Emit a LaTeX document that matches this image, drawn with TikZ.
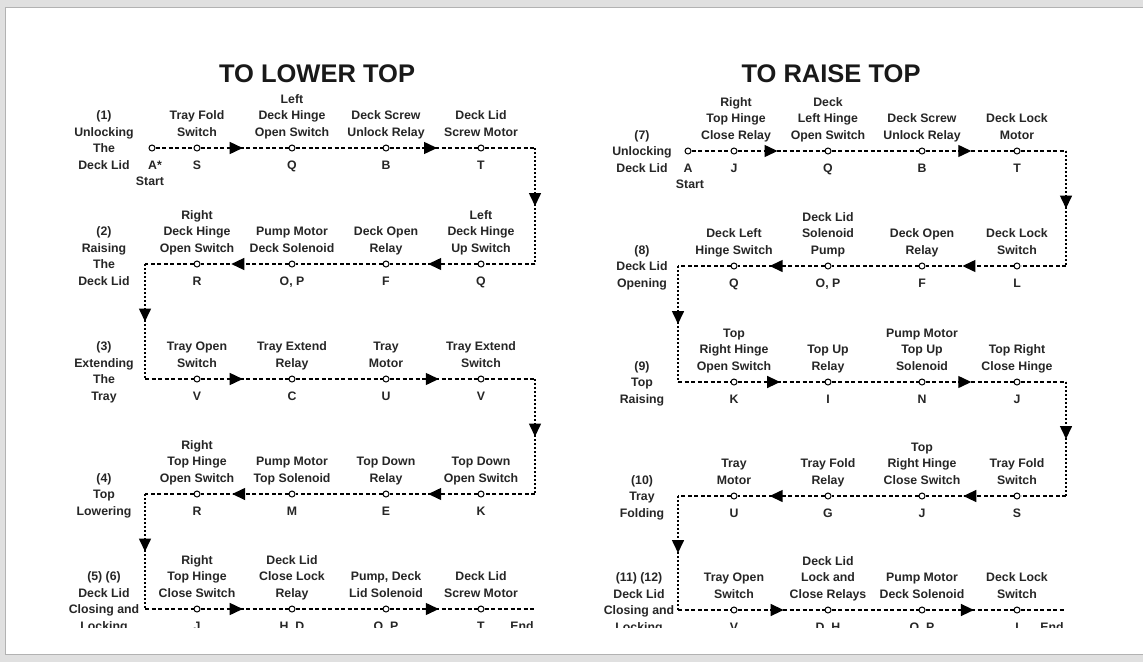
\documentclass[tikz,border=0pt]{standalone}
\usepackage{fontspec}
\setmainfont{Liberation Sans}
\usetikzlibrary{arrows.meta,decorations.markings}
\newcommand\partfont{\bfseries\fontsize{12.3}{16.5}\selectfont}
\newcommand\headfont{\bfseries\fontsize{25.5}{30}\selectfont}
\tikzset{
  stn/.style={circle, draw, line width=1pt, fill=white, inner sep=0pt, minimum size=6pt},
  part/.style={font=\partfont, text=black!85, align=center, anchor=base, inner sep=0pt},
  letter/.style={font=\partfont, text=black!85, anchor=base, inner sep=0pt},
  stage/.style={font=\partfont, text=black!85, align=center, anchor=base, inner sep=0pt},
  head/.style={font=\headfont, text=black!90, anchor=base, inner sep=0pt},
  wire/.style={line width=1.4pt, dash pattern=on 4pt off 2.5pt},
  riser/.style={line width=1.6pt, dash pattern=on 2pt off 2pt},
  midtip/.style={postaction={decorate, decoration={markings,
    mark=at position #1 with {\arrow{Triangle[length=13pt,width=12pt]}}}}}
}
\begin{document}
\begin{tikzpicture}[x=1pt,y=-1pt]
\clip (0,0) rectangle (1143,662);
\fill[black!12] (0,0) rectangle (1143,662);
\filldraw[fill=white, draw=black!30, line width=1pt] (5,7) rectangle (1170,654);
\begin{scope}
\clip (0,0) rectangle (1143,627);
% titles
\node[head] (lowhead) at (317,82.5) {TO LOWER TOP};
\node[head] (raisehead) at (831,82.5) {TO RAISE TOP};

% ---- to lower top ----
% (1) unlocking the deck lid
\node[stage] (st1) at (104,169.2) {(1)\\Unlocking\\The\\Deck Lid};
\node[stn] (r1c0) at (152,148) {};
\node[letter] (r1c0k) at (155,169.2) {A*};
\node[letter] (r1st) at (150,185.7) {Start};
\node[stn] (r1c1) at (197,148) {};
\node[part] (r1c1n) at (197,136.2) {Tray Fold\\Switch};
\node[letter] (r1c1k) at (197,169.2) {S};
\node[stn] (r1c2) at (292,148) {};
\node[part] (r1c2n) at (292,136.2) {Left\\Deck Hinge\\Open Switch};
\node[letter] (r1c2k) at (292,169.2) {Q};
\node[stn] (r1c3) at (386,148) {};
\node[part] (r1c3n) at (386,136.2) {Deck Screw\\Unlock Relay};
\node[letter] (r1c3k) at (386,169.2) {B};
\node[stn] (r1c4) at (481,148) {};
\node[part] (r1c4n) at (481,136.2) {Deck Lid\\Screw Motor};
\node[letter] (r1c4k) at (481,169.2) {T};
% (2) raising the deck lid
\node[stage] (st2) at (104,285.2) {(2)\\Raising\\The\\Deck Lid};
\node[stn] (r2c1) at (197,264) {};
\node[part] (r2c1n) at (197,252.2) {Right\\Deck Hinge\\Open Switch};
\node[letter] (r2c1k) at (197,285.2) {R};
\node[stn] (r2c2) at (292,264) {};
\node[part] (r2c2n) at (292,252.2) {Pump Motor\\Deck Solenoid};
\node[letter] (r2c2k) at (292,285.2) {O, P};
\node[stn] (r2c3) at (386,264) {};
\node[part] (r2c3n) at (386,252.2) {Deck Open\\Relay};
\node[letter] (r2c3k) at (386,285.2) {F};
\node[stn] (r2c4) at (481,264) {};
\node[part] (r2c4n) at (481,252.2) {Left\\Deck Hinge\\Up Switch};
\node[letter] (r2c4k) at (481,285.2) {Q};
% (3) extending the tray
\node[stage] (st3) at (104,400.2) {(3)\\Extending\\The\\Tray};
\node[stn] (r3c1) at (197,379) {};
\node[part] (r3c1n) at (197,367.2) {Tray Open\\Switch};
\node[letter] (r3c1k) at (197,400.2) {V};
\node[stn] (r3c2) at (292,379) {};
\node[part] (r3c2n) at (292,367.2) {Tray Extend\\Relay};
\node[letter] (r3c2k) at (292,400.2) {C};
\node[stn] (r3c3) at (386,379) {};
\node[part] (r3c3n) at (386,367.2) {Tray\\Motor};
\node[letter] (r3c3k) at (386,400.2) {U};
\node[stn] (r3c4) at (481,379) {};
\node[part] (r3c4n) at (481,367.2) {Tray Extend\\Switch};
\node[letter] (r3c4k) at (481,400.2) {V};
% (4) top lowering
\node[stage] (st4) at (104,515.2) {(4)\\Top\\Lowering};
\node[stn] (r4c1) at (197,494) {};
\node[part] (r4c1n) at (197,482.2) {Right\\Top Hinge\\Open Switch};
\node[letter] (r4c1k) at (197,515.2) {R};
\node[stn] (r4c2) at (292,494) {};
\node[part] (r4c2n) at (292,482.2) {Pump Motor\\Top Solenoid};
\node[letter] (r4c2k) at (292,515.2) {M};
\node[stn] (r4c3) at (386,494) {};
\node[part] (r4c3n) at (386,482.2) {Top Down\\Relay};
\node[letter] (r4c3k) at (386,515.2) {E};
\node[stn] (r4c4) at (481,494) {};
\node[part] (r4c4n) at (481,482.2) {Top Down\\Open Switch};
\node[letter] (r4c4k) at (481,515.2) {K};
% (5) (6) deck lid closing and locking
\node[stage] (st5) at (104,630.2) {(5) (6)\\Deck Lid\\Closing and\\Locking};
\node[stn] (r5c1) at (197,609) {};
\node[part] (r5c1n) at (197,597.2) {Right\\Top Hinge\\Close Switch};
\node[letter] (r5c1k) at (197,630.2) {J};
\node[stn] (r5c2) at (292,609) {};
\node[part] (r5c2n) at (292,597.2) {Deck Lid\\Close Lock\\Relay};
\node[letter] (r5c2k) at (292,630.2) {H, D};
\node[stn] (r5c3) at (386,609) {};
\node[part] (r5c3n) at (386,597.2) {Pump, Deck\\Lid Solenoid};
\node[letter] (r5c3k) at (386,630.2) {O, P};
\node[stn] (r5c4) at (481,609) {};
\node[part] (r5c4n) at (481,597.2) {Deck Lid\\Screw Motor};
\node[letter] (r5c4k) at (481,630.2) {T};
\node[letter] (r5end) at (522,630.2) {End};

\coordinate (b1a) at (535,148);
\coordinate (b1b) at (535,264);
\coordinate (b2a) at (145,264);
\coordinate (b2b) at (145,379);
\coordinate (b3a) at (535,379);
\coordinate (b3b) at (535,494);
\coordinate (b4a) at (145,494);
\coordinate (b4b) at (145,609);
\coordinate (e5) at (535,609);

\draw[wire] (r1c0) -- (r1c1);
\draw[wire, midtip=0.48] (r1c1) -- (r1c2);
\draw[wire] (r1c2) -- (r1c3);
\draw[wire, midtip=0.54] (r1c3) -- (r1c4);
\draw[wire] (r1c4) -- (b1a);
\draw[riser, midtip=0.5] (b1a) -- (b1b);
\draw[wire] (b1b) -- (r2c4);
\draw[wire, midtip=0.56] (r2c4) -- (r2c3);
\draw[wire] (r2c3) -- (r2c2);
\draw[wire, midtip=0.65] (r2c2) -- (r2c1);
\draw[wire] (r2c1) -- (b2a);
\draw[riser, midtip=0.5] (b2a) -- (b2b);
\draw[wire] (b2b) -- (r3c1);
\draw[wire, midtip=0.48] (r3c1) -- (r3c2);
\draw[wire] (r3c2) -- (r3c3);
\draw[wire, midtip=0.56] (r3c3) -- (r3c4);
\draw[wire] (r3c4) -- (b3a);
\draw[riser, midtip=0.5] (b3a) -- (b3b);
\draw[wire] (b3b) -- (r4c4);
\draw[wire, midtip=0.56] (r4c4) -- (r4c3);
\draw[wire] (r4c3) -- (r4c2);
\draw[wire, midtip=0.64] (r4c2) -- (r4c1);
\draw[wire] (r4c1) -- (b4a);
\draw[riser, midtip=0.5] (b4a) -- (b4b);
\draw[wire] (b4b) -- (r5c1);
\draw[wire, midtip=0.48] (r5c1) -- (r5c2);
\draw[wire] (r5c2) -- (r5c3);
\draw[wire, midtip=0.56] (r5c3) -- (r5c4);
\draw[wire] (r5c4) -- (e5);

% ---- to raise top ----
% (7) unlocking deck lid
\node[stage] (st7) at (642,172.2) {(7)\\Unlocking\\Deck Lid};
\node[stn] (r7c0) at (688,151) {};
\node[letter] (r7c0k) at (688,172.2) {A};
\node[letter] (r7st) at (690,188.7) {Start};
\node[stn] (r7c1) at (734,151) {};
\node[part] (r7c1n) at (736,139.2) {Right\\Top Hinge\\Close Relay};
\node[letter] (r7c1k) at (734,172.2) {J};
\node[stn] (r7c2) at (828,151) {};
\node[part] (r7c2n) at (828,139.2) {Deck\\Left Hinge\\Open Switch};
\node[letter] (r7c2k) at (828,172.2) {Q};
\node[stn] (r7c3) at (922,151) {};
\node[part] (r7c3n) at (922,139.2) {Deck Screw\\Unlock Relay};
\node[letter] (r7c3k) at (922,172.2) {B};
\node[stn] (r7c4) at (1017,151) {};
\node[part] (r7c4n) at (1017,139.2) {Deck Lock\\Motor};
\node[letter] (r7c4k) at (1017,172.2) {T};
% (8) deck lid opening
\node[stage] (st8) at (642,287.2) {(8)\\Deck Lid\\Opening};
\node[stn] (r8c1) at (734,266) {};
\node[part] (r8c1n) at (734,254.2) {Deck Left\\Hinge Switch};
\node[letter] (r8c1k) at (734,287.2) {Q};
\node[stn] (r8c2) at (828,266) {};
\node[part] (r8c2n) at (828,254.2) {Deck Lid\\Solenoid\\Pump};
\node[letter] (r8c2k) at (828,287.2) {O, P};
\node[stn] (r8c3) at (922,266) {};
\node[part] (r8c3n) at (922,254.2) {Deck Open\\Relay};
\node[letter] (r8c3k) at (922,287.2) {F};
\node[stn] (r8c4) at (1017,266) {};
\node[part] (r8c4n) at (1017,254.2) {Deck Lock\\Switch};
\node[letter] (r8c4k) at (1017,287.2) {L};
% (9) top raising
\node[stage] (st9) at (642,403.2) {(9)\\Top\\Raising};
\node[stn] (r9c1) at (734,382) {};
\node[part] (r9c1n) at (734,370.2) {Top\\Right Hinge\\Open Switch};
\node[letter] (r9c1k) at (734,403.2) {K};
\node[stn] (r9c2) at (828,382) {};
\node[part] (r9c2n) at (828,370.2) {Top Up\\Relay};
\node[letter] (r9c2k) at (828,403.2) {I};
\node[stn] (r9c3) at (922,382) {};
\node[part] (r9c3n) at (922,370.2) {Pump Motor\\Top Up\\Solenoid};
\node[letter] (r9c3k) at (922,403.2) {N};
\node[stn] (r9c4) at (1017,382) {};
\node[part] (r9c4n) at (1017,370.2) {Top Right\\Close Hinge};
\node[letter] (r9c4k) at (1017,403.2) {J};
% (10) tray folding
\node[stage] (st10) at (642,517.2) {(10)\\Tray\\Folding};
\node[stn] (r10c1) at (734,496) {};
\node[part] (r10c1n) at (734,484.2) {Tray\\Motor};
\node[letter] (r10c1k) at (734,517.2) {U};
\node[stn] (r10c2) at (828,496) {};
\node[part] (r10c2n) at (828,484.2) {Tray Fold\\Relay};
\node[letter] (r10c2k) at (828,517.2) {G};
\node[stn] (r10c3) at (922,496) {};
\node[part] (r10c3n) at (922,484.2) {Top\\Right Hinge\\Close Switch};
\node[letter] (r10c3k) at (922,517.2) {J};
\node[stn] (r10c4) at (1017,496) {};
\node[part] (r10c4n) at (1017,484.2) {Tray Fold\\Switch};
\node[letter] (r10c4k) at (1017,517.2) {S};
% (11) (12) deck lid closing and locking
\node[stage] (st11) at (639,631.2) {(11) (12)\\Deck Lid\\Closing and\\Locking};
\node[stn] (r11c1) at (734,610) {};
\node[part] (r11c1n) at (734,598.2) {Tray Open\\Switch};
\node[letter] (r11c1k) at (734,631.2) {V};
\node[stn] (r11c2) at (828,610) {};
\node[part] (r11c2n) at (828,598.2) {Deck Lid\\Lock and\\Close Relays};
\node[letter] (r11c2k) at (828,631.2) {D, H};
\node[stn] (r11c3) at (922,610) {};
\node[part] (r11c3n) at (922,598.2) {Pump Motor\\Deck Solenoid};
\node[letter] (r11c3k) at (922,631.2) {O, P};
\node[stn] (r11c4) at (1017,610) {};
\node[part] (r11c4n) at (1017,598.2) {Deck Lock\\Switch};
\node[letter] (r11c4k) at (1017,631.2) {I};
\node[letter] (r11end) at (1052,631.2) {End};

\coordinate (b7a) at (1066,151);
\coordinate (b7b) at (1066,266);
\coordinate (b8a) at (678,266);
\coordinate (b8b) at (678,382);
\coordinate (b9a) at (1066,382);
\coordinate (b9b) at (1066,496);
\coordinate (b10a) at (678,496);
\coordinate (b10b) at (678,610);
\coordinate (e11) at (1064,610);

\draw[wire] (r7c0) -- (r7c1);
\draw[wire, midtip=0.46] (r7c1) -- (r7c2);
\draw[wire] (r7c2) -- (r7c3);
\draw[wire, midtip=0.52] (r7c3) -- (r7c4);
\draw[wire] (r7c4) -- (b7a);
\draw[riser, midtip=0.5] (b7a) -- (b7b);
\draw[wire] (b7b) -- (r8c4);
\draw[wire, midtip=0.58] (r8c4) -- (r8c3);
\draw[wire] (r8c3) -- (r8c2);
\draw[wire, midtip=0.63] (r8c2) -- (r8c1);
\draw[wire] (r8c1) -- (b8a);
\draw[riser, midtip=0.5] (b8a) -- (b8b);
\draw[wire] (b8b) -- (r9c1);
\draw[wire, midtip=0.49] (r9c1) -- (r9c2);
\draw[wire] (r9c2) -- (r9c3);
\draw[wire, midtip=0.52] (r9c3) -- (r9c4);
\draw[wire] (r9c4) -- (b9a);
\draw[riser, midtip=0.5] (b9a) -- (b9b);
\draw[wire] (b9b) -- (r10c4);
\draw[wire, midtip=0.57] (r10c4) -- (r10c3);
\draw[wire] (r10c3) -- (r10c2);
\draw[wire, midtip=0.63] (r10c2) -- (r10c1);
\draw[wire] (r10c1) -- (b10a);
\draw[riser, midtip=0.5] (b10a) -- (b10b);
\draw[wire] (b10b) -- (r11c1);
\draw[wire, midtip=0.53] (r11c1) -- (r11c2);
\draw[wire] (r11c2) -- (r11c3);
\draw[wire, midtip=0.55] (r11c3) -- (r11c4);
\draw[wire] (r11c4) -- (e11);
\end{scope}
\end{tikzpicture}
\end{document}
